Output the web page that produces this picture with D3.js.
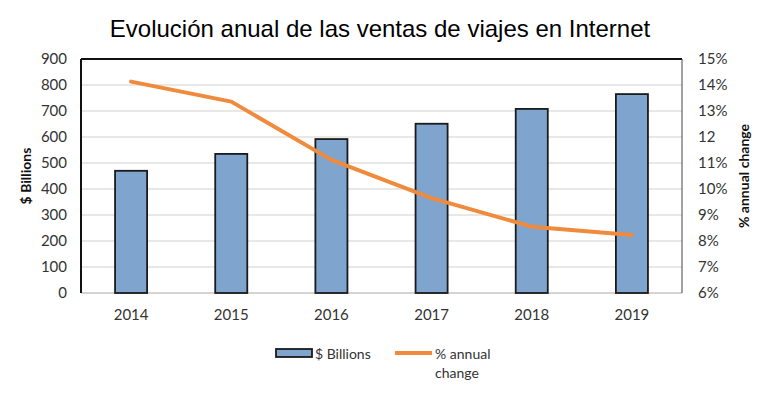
<!DOCTYPE html>
<html><head><meta charset="utf-8">
<script src="https://cdn.jsdelivr.net/npm/d3@7"></script>
<style>
body{margin:0;background:#fff;}
text{font-family:Lato,"Open Sans",sans-serif;fill:#333;}
</style></head>
<body><svg id="c" width="760" height="395"></svg>
<script>
const years = ["2014","2015","2016","2017","2018","2019"];
const billions = [470, 535, 592, 651, 708, 765];
const pctChange = [14.13, 13.36, 11.12, 9.65, 8.55, 8.23];
const leftTicks = [0,100,200,300,400,500,600,700,800,900];
const rightTicks = [6,7,8,9,10,11,12,13,14,15];
const rightTickLabels = ["6%","7%","8%","9%","10%","11%","12","13%","14%","15%"];

const svg = d3.select("#c");
const m = {l:81, r:682, t:59, b:293};

const x = d3.scaleBand().domain(years).range([m.l, m.r]).paddingInner(0.68).paddingOuter(0.34);
const yL = d3.scaleLinear().domain([0,900]).range([m.b, m.t]);
const yR = d3.scaleLinear().domain([6,15]).range([m.b, m.t]);

// title
svg.append("text").attr("x",380).attr("y",37).attr("text-anchor","middle")
  .style("font-family","'Liberation Sans',Arial,sans-serif").style("font-size","24px").style("fill","#000")
  .text("Evolución anual de las ventas de viajes en Internet");

// gridlines
svg.append("g").selectAll("line").data(leftTicks.slice(1,-1)).join("line")
  .attr("x1",m.l).attr("x2",m.r).attr("y1",d=>yL(d)).attr("y2",d=>yL(d))
  .attr("stroke","#e3dfdf").attr("stroke-width",1.5);
svg.append("line").attr("x1",m.l).attr("x2",m.r).attr("y1",m.b).attr("y2",m.b)
  .attr("stroke","#c8c4c4").attr("stroke-width",1.5);

// frame
svg.append("line").attr("x1",m.l).attr("x2",m.r).attr("y1",m.t).attr("y2",m.t).attr("stroke","#111").attr("stroke-width",2);
svg.append("line").attr("x1",m.l).attr("x2",m.l).attr("y1",m.t).attr("y2",m.b).attr("stroke","#111").attr("stroke-width",2);
svg.append("line").attr("x1",m.r).attr("x2",m.r).attr("y1",m.t).attr("y2",m.b).attr("stroke","#444").attr("stroke-width",1);

// bars
svg.append("g").selectAll("rect").data(years).join("rect")
  .attr("x",d=>x(d)).attr("width",x.bandwidth())
  .attr("y",(d,i)=>yL(billions[i])).attr("height",(d,i)=>m.b-yL(billions[i]))
  .attr("fill","#7fa5cf").attr("stroke","#1a1a1a").attr("stroke-width",1.8);

// line
const line = d3.line().x((d,i)=>x(years[i])+x.bandwidth()/2).y(d=>yR(d));
svg.append("path").datum(pctChange).attr("d",line)
  .attr("fill","none").attr("stroke","#f08a3c").attr("stroke-width",4).attr("stroke-linecap","round").attr("stroke-linejoin","round");

// left axis
const axL = d3.axisLeft(yL).tickValues(leftTicks).tickSize(0).tickPadding(14);
const gL = svg.append("g").attr("transform",`translate(${m.l},0)`).call(axL);
gL.select(".domain").remove();
gL.selectAll("text").style("font-size","15px").style("font-family","Lato,sans-serif").attr("fill","#333");

// right axis
const axR = d3.axisRight(yR).tickValues(rightTicks).tickFormat((d,i)=>rightTickLabels[i]).tickSize(0).tickPadding(16);
const gR = svg.append("g").attr("transform",`translate(${m.r},0)`).call(axR);
gR.select(".domain").remove();
gR.selectAll("text").style("font-size","15px").style("font-family","Lato,sans-serif").attr("fill","#333");

// bottom axis
const axB = d3.axisBottom(x).tickSize(0).tickPadding(16);
const gB = svg.append("g").attr("transform",`translate(0,${m.b})`).call(axB);
gB.select(".domain").remove();
gB.selectAll("text").style("font-size","15px").style("font-family","Lato,sans-serif").attr("fill","#333");

// axis titles
svg.append("text").attr("transform","translate(31,176) rotate(-90)").attr("text-anchor","middle")
  .style("font-size","14px").style("font-weight","bold").style("fill","#111").text("$ Billions");
svg.append("text").attr("transform","translate(749,176) rotate(-90)").attr("text-anchor","middle")
  .style("font-size","14px").style("font-weight","bold").style("fill","#111").text("% annual change");

// legend
const lg = svg.append("g");
lg.append("rect").attr("x",276).attr("y",349).attr("width",36).attr("height",8)
  .attr("fill","#7fa5cf").attr("stroke","#1a1a1a").attr("stroke-width",1.8);
lg.append("text").attr("x",315).attr("y",359).style("font-size","14px").text("$ Billions");
lg.append("line").attr("x1",395).attr("x2",432).attr("y1",353).attr("y2",353)
  .attr("stroke","#f08a3c").attr("stroke-width",4);
lg.append("text").attr("x",435).attr("y",359).style("font-size","14px").text("% annual");
lg.append("text").attr("x",435).attr("y",378).style("font-size","14px").text("change");
</script></body></html>
